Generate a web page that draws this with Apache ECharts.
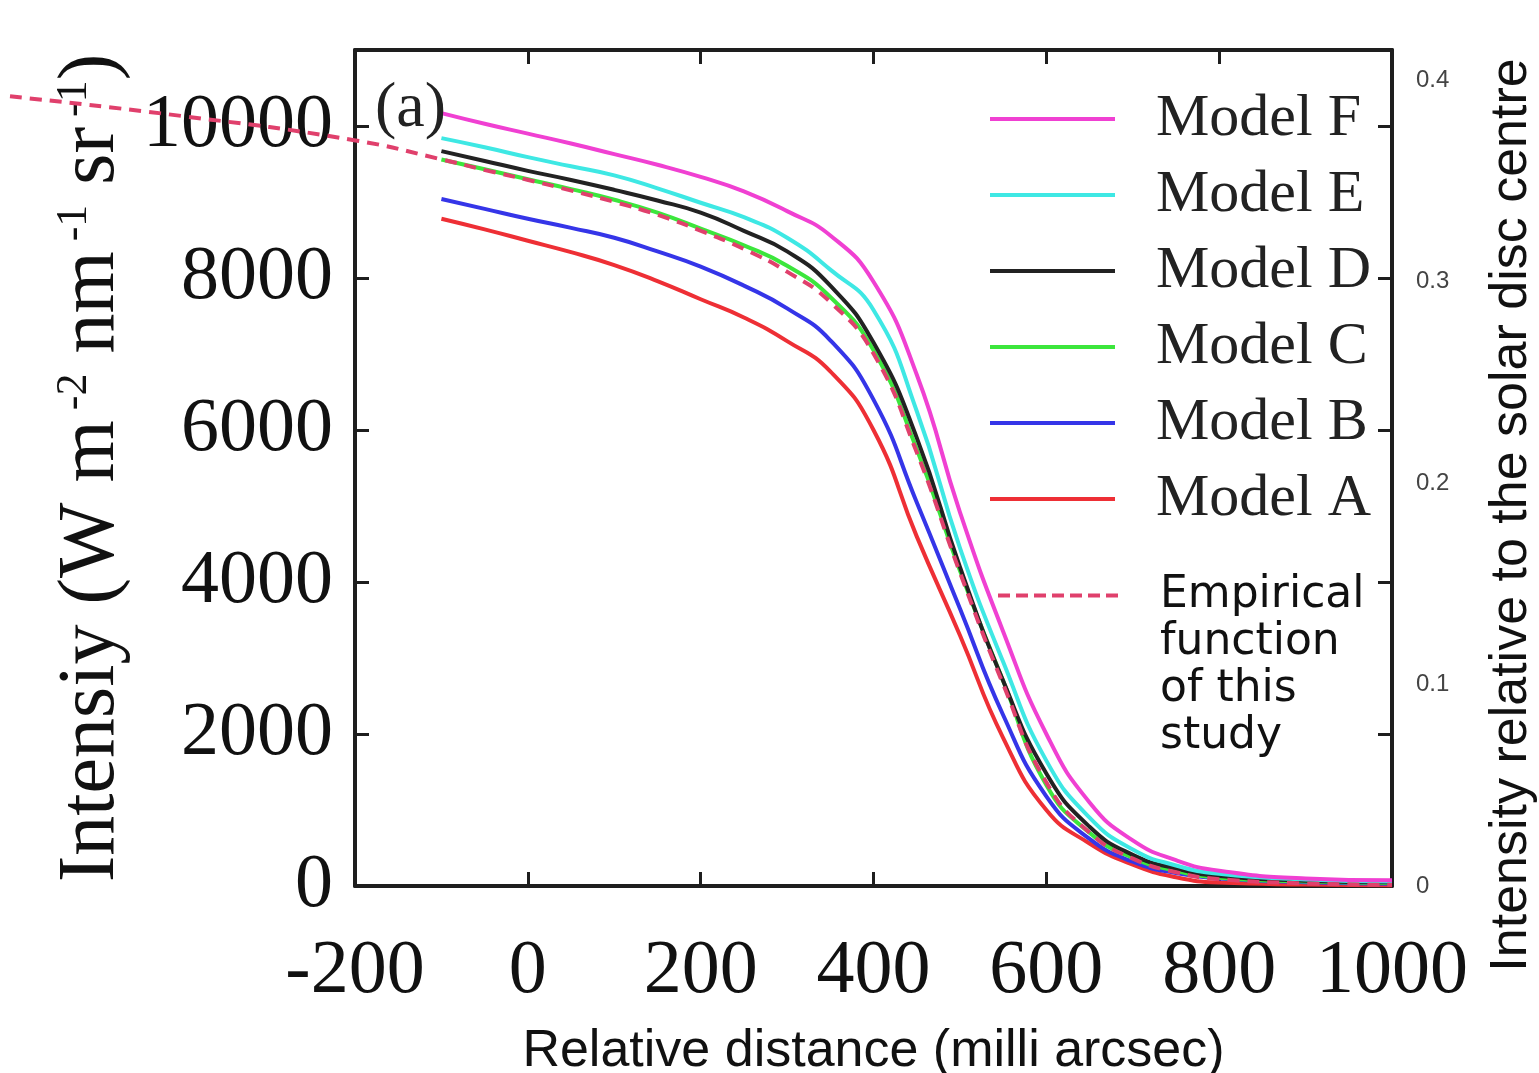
<!DOCTYPE html>
<html>
<head>
<meta charset="utf-8">
<script src="https://cdn.jsdelivr.net/npm/echarts@6/dist/echarts.min.js"></script>
<style>
  html, body { margin: 0; padding: 0; background: #fff; }
  #chart { width: 1539px; height: 1073px; }
</style>
</head>
<body>
<div id="chart"></div>
<script>
// relative distance (milli arcsec) sampled for the model curves
const distances = [-100, -50, 0, 50, 100, 150, 200, 250, 300, 350, 400, 450, 500, 550, 600, 650, 700, 750, 800, 900, 1000];

// intensity (W m-2 nm-1 sr-1)
const modelA = [8780, 8640, 8490, 8340, 8170, 7960, 7720, 7480, 7170, 6770, 6000, 4600, 3300, 1950, 1000, 560, 280, 115, 45, 20, 10];
const modelB = [9040, 8910, 8780, 8660, 8530, 8350, 8150, 7900, 7600, 7180, 6400, 5050, 3650, 2250, 1180, 620, 320, 170, 100, 50, 30];
const modelC = [9560, 9430, 9300, 9170, 9030, 8860, 8650, 8430, 8160, 7750, 7050, 5750, 4150, 2700, 1330, 700, 370, 200, 110, 60, 40];
const modelD = [9670, 9540, 9410, 9290, 9160, 9020, 8860, 8620, 8350, 7900, 7150, 5900, 4200, 2700, 1480, 780, 410, 230, 130, 70, 50];
const modelE = [9840, 9720, 9590, 9470, 9350, 9180, 8990, 8800, 8530, 8110, 7580, 6250, 4450, 2950, 1650, 900, 480, 270, 160, 85, 60];
const modelF = [10170, 10030, 9900, 9770, 9630, 9490, 9330, 9140, 8880, 8560, 7950, 6730, 4920, 3350, 2000, 1100, 600, 340, 200, 100, 75];

// the empirical function starts further left, outside the frame
const empiricalX = [-600, -400, -200, -100, -50, 0, 50, 100, 150, 200, 250, 300, 350, 400, 450, 500, 550, 600, 650, 700, 750, 800, 900, 1000];
const empiricalY = [10390, 10130, 9810, 9560, 9420, 9290, 9150, 9000, 8830, 8620, 8380, 8080, 7680, 7000, 5700, 4120, 2650, 1360, 700, 360, 180, 90, 35, 15];

const xTicks = [-200, 0, 200, 400, 600, 800, 1000];
const leftTicks = [0, 2000, 4000, 6000, 8000, 10000];
const rightTicks = [0, 0.1, 0.2, 0.3, 0.4];

const models = [
  { name: "Model A", data: modelA, color: "#ee2f35" },
  { name: "Model B", data: modelB, color: "#3535e8" },
  { name: "Model C", data: modelC, color: "#3ce63c" },
  { name: "Model D", data: modelD, color: "#222222" },
  { name: "Model E", data: modelE, color: "#3ee8e4" },
  { name: "Model F", data: modelF, color: "#f040d2" },
];

const chart = echarts.init(document.getElementById("chart"));

const frameLine = { show: true, onZero: false, lineStyle: { color: "#1e1e1e", width: 4 } };
const inTick = { show: true, inside: true, length: 14, lineStyle: { color: "#1e1e1e", width: 3 } };

const series = models.map((m) => ({
  name: m.name,
  type: "line",
  smooth: 0.5,
  symbol: "none",
  lineStyle: { color: m.color, width: 4 },
  itemStyle: { color: m.color },
  data: distances.map((x, i) => [x, m.data[i]]),
}));

// dashed curve lives on a wider, invisible grid with the same scale so it can run past the frame
series.push({
  name: "Empirical function of this study",
  type: "line",
  xAxisIndex: 2,
  yAxisIndex: 3,
  smooth: 0.5,
  symbol: "none",
  z: 5,
  lineStyle: { color: "#e0406c", width: 4, type: [12, 8] },
  itemStyle: { color: "#e0406c" },
  data: empiricalX.map((x, i) => [x, empiricalY[i]]),
});

const dashIcon =
  "path://M0,0h12v4h-12z M18,0h12v4h-12z M36,0h12v4h-12z M54,0h12v4h-12z M72,0h12v4h-12z M90,0h12v4h-12z M108,0h12v4h-12z";

const options = {
  animation: false,
  backgroundColor: "#ffffff",
  title: {
    text: "(a)",
    left: 370,
    top: 72,
    textStyle: { fontFamily: "Liberation Serif", fontSize: 64, fontWeight: "normal", color: "#222" },
  },
  grid: [
    { left: 355, right: 147, top: 50, bottom: 187, outerBoundsMode: "none" },
    { left: 10, right: 147, top: 50, bottom: 187, outerBoundsMode: "none" },
  ],
  legend: [
    {
      data: ["Model F", "Model E", "Model D", "Model C", "Model B", "Model A"],
      orient: "vertical",
      left: 985,
      top: 84,
      icon: "rect",
      itemWidth: 125,
      itemHeight: 4,
      itemGap: 16,
      selectedMode: false,
      textStyle: {
        fontFamily: "Liberation Serif",
        fontSize: 60,
        lineHeight: 60,
        color: "#222",
        padding: [0, 0, 0, 36],
      },
    },
    {
      data: ["Empirical function of this study"],
      orient: "vertical",
      left: 993,
      top: 426,
      icon: dashIcon,
      itemWidth: 122,
      itemHeight: 4,
      selectedMode: false,
      formatter: () => "\n\n\nEmpirical\nfunction\nof this\nstudy",
      textStyle: {
        fontFamily: "DejaVu Sans",
        fontSize: 44,
        lineHeight: 47,
        color: "#111",
        padding: [0, 0, 0, 36],
      },
    },
  ],
  xAxis: [
    {
      type: "value",
      position: "bottom",
      min: xTicks[0],
      max: xTicks[xTicks.length - 1],
      interval: 200,
      name: "Relative distance (milli arcsec)",
      nameLocation: "middle",
      nameGap: 140,
      nameTextStyle: { fontFamily: "Liberation Sans", fontSize: 52, color: "#111" },
      axisLine: frameLine,
      axisTick: inTick,
      splitLine: { show: false },
      axisLabel: { fontFamily: "Liberation Serif", fontSize: 76, color: "#111", margin: 48, formatter: (v) => String(v) },
    },
    {
      type: "value",
      position: "top",
      min: xTicks[0],
      max: xTicks[xTicks.length - 1],
      interval: 200,
      axisLine: frameLine,
      axisTick: inTick,
      splitLine: { show: false },
      axisLabel: { show: false },
    },
    {
      type: "value",
      gridIndex: 1,
      min: -600,
      max: xTicks[xTicks.length - 1],
      show: false,
    },
  ],
  yAxis: [
    {
      type: "value",
      position: "left",
      min: leftTicks[0],
      max: 11000,
      interval: 2000,
      name: "Intensiy (W m{sup|-2} nm{sup|-1} sr{sup|-1})",
      nameLocation: "middle",
      nameRotate: 90,
      nameGap: 218,
      nameTextStyle: {
        fontFamily: "Liberation Serif",
        fontSize: 80,
        color: "#111",
        rich: {
          sup: { fontFamily: "Liberation Serif", fontSize: 44, color: "#111", verticalAlign: "top", padding: [0, 0, 0, 10] },
        },
      },
      axisLine: frameLine,
      axisTick: inTick,
      splitLine: { show: false },
      axisLabel: {
        fontFamily: "Liberation Serif",
        fontSize: 76,
        color: "#111",
        margin: 22,
        showMaxLabel: false,
        formatter: (v) => String(v),
      },
    },
    {
      type: "value",
      position: "right",
      min: rightTicks[0],
      max: 0.415,
      interval: 0.1,
      name: "Intensity relative to the solar disc centre",
      nameLocation: "middle",
      nameRotate: 90,
      nameGap: 94,
      nameTextStyle: { fontFamily: "Liberation Sans", fontSize: 52, color: "#111", padding: [0, 94, 0, 0] },
      axisLine: { show: false },
      axisTick: { show: false },
      splitLine: { show: false },
      axisLabel: {
        fontFamily: "Liberation Sans",
        fontSize: 24,
        color: "#444",
        margin: 24,
        showMaxLabel: false,
        formatter: (v) => (v === 0 ? "0" : v.toFixed(1)),
      },
    },
    {
      type: "value",
      position: "right",
      min: leftTicks[0],
      max: 11000,
      interval: 2000,
      axisLine: frameLine,
      axisTick: inTick,
      splitLine: { show: false },
      axisLabel: { show: false },
    },
    {
      type: "value",
      gridIndex: 1,
      min: leftTicks[0],
      max: 11000,
      show: false,
    },
  ],
  series: series,
};

chart.setOption(options);
</script>
</body>
</html>
